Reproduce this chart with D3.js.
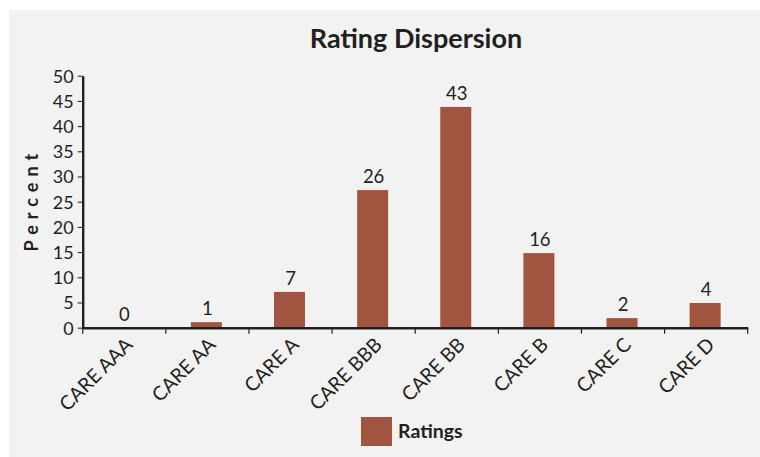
<!DOCTYPE html>
<html>
<head>
<meta charset="utf-8">
<script src="https://cdn.jsdelivr.net/npm/d3@7"></script>
<style>
  html, body { margin: 0; padding: 0; background: #ffffff; }
  svg { display: block; }
  text { font-family: Lato, "Open Sans", sans-serif; fill: #231f20; }
</style>
</head>
<body>
<svg id="chart" width="760" height="457"></svg>
<script>
// ---- data ----
const categories = ["CARE AAA", "CARE AA", "CARE A", "CARE BBB", "CARE BB", "CARE B", "CARE C", "CARE D"];
const barValues = [0, 1.1, 7.1, 27.3, 43.8, 14.8, 1.9, 4.9];
const valueLabels = ["0", "1", "7", "26", "43", "16", "2", "4"];
const yTicks = [0, 5, 10, 15, 20, 25, 30, 35, 40, 45, 50];
const seriesName = "Ratings";
const titleText = "Rating Dispersion";
const yTitle = "Percent";

// ---- layout ----
const W = 760, H = 457;
const plot = { left: 82.7, right: 747.7, top: 75.7, bottom: 327.7 };
const barColor = "#a1543f";
const ink = "#231f20";

const svg = d3.select("#chart");

svg.append("rect").attr("x", 9).attr("y", 10).attr("width", W - 9).attr("height", H - 10).attr("fill", "#f2f2f2");

const x = d3.scaleBand().domain(categories).range([plot.left, plot.right]).padding(0);
const y = d3.scaleLinear().domain([0, 50]).range([plot.bottom, plot.top]);
const barW = x.bandwidth() * 0.373;

// title
svg.append("text").attr("x", 416).attr("y", 48.3).attr("text-anchor", "middle")
  .style("font-size", "27px").style("font-weight", "bold").text(titleText);

// bars
svg.append("g").selectAll("rect").data(categories).join("rect")
  .attr("x", (d) => x(d) + x.bandwidth() / 2 - barW / 2 - 1)
  .attr("width", barW)
  .attr("y", (d, i) => y(barValues[i]))
  .attr("height", (d, i) => y(0) - y(barValues[i]))
  .attr("fill", barColor);

// value labels
svg.append("g").selectAll("text").data(categories).join("text")
  .attr("x", (d) => x(d) + x.bandwidth() / 2)
  .attr("y", (d, i) => y(barValues[i]) - 7)
  .attr("text-anchor", "middle")
  .style("font-size", "18.5px")
  .text((d, i) => valueLabels[i]);

// y axis
const yAxis = d3.axisLeft(y).tickValues(yTicks).tickSize(5).tickPadding(4).tickSizeOuter(0);
const gy = svg.append("g").attr("transform", `translate(${plot.left},0)`).call(yAxis);
gy.select(".domain").attr("stroke", ink).attr("stroke-width", 2.4);
gy.selectAll(".tick line").attr("stroke", ink).attr("stroke-width", 1);
gy.selectAll(".tick text").style("font-size", "18px").style("font-family", "Lato, sans-serif").attr("fill", ink).attr("dy", "0.36em");

// x axis
const xAxis = d3.axisBottom(x).tickSize(0).tickFormat(() => "");
const gx = svg.append("g").attr("transform", `translate(0,${plot.bottom})`).call(xAxis);
gx.select(".domain").attr("stroke", ink).attr("stroke-width", 2.4);
gx.selectAll(".tick").remove();
const bounds = categories.map((c) => x(c)).concat([x.range()[1]]);
gx.selectAll("line.bound").data(bounds).join("line").attr("class", "bound")
  .attr("x1", (d) => d).attr("x2", (d) => d).attr("y1", 0).attr("y2", 6)
  .attr("stroke", ink).attr("stroke-width", 1.2);

// x labels
svg.append("g").selectAll("text").data(categories).join("text")
  .attr("transform", (d) => `translate(${x(d) + x.bandwidth() / 2 + 9.5},346) rotate(-45)`)
  .attr("text-anchor", "end")
  .style("font-size", "19.5px")
  .text((d) => d);

// y title
svg.append("text")
  .attr("transform", `translate(38,${(plot.top + plot.bottom) / 2 - 2}) rotate(-90)`)
  .attr("text-anchor", "middle")
  .style("font-size", "18px").style("font-weight", "bold").style("letter-spacing", "6px")
  .text(yTitle);

// legend
const lg = svg.append("g");
lg.append("rect").attr("x", 361).attr("y", 417).attr("width", 31).attr("height", 29).attr("fill", barColor);
lg.append("text").attr("x", 398).attr("y", 438.3).style("font-size", "19.5px").style("font-weight", "bold").text(seriesName);
</script>
</body>
</html>
